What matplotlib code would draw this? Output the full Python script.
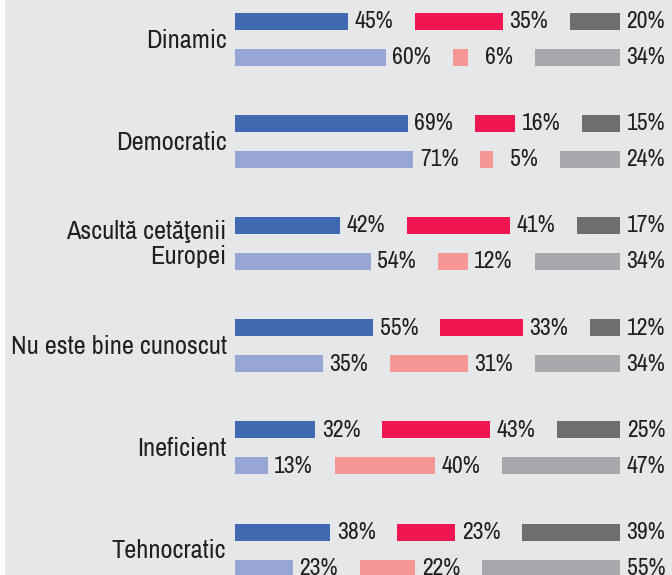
import matplotlib
matplotlib.use("Agg")
import matplotlib.pyplot as plt
from matplotlib.patches import Rectangle

# categories and the two survey rows for each (share of answers, %)
categories = ["Dinamic", "Democratic", "Ascultă cetăţenii\nEuropei",
              "Nu este bine cunoscut", "Ineficient", "Tehnocratic"]
row1 = [[45, 35, 20], [69, 16, 15], [42, 41, 17],
        [55, 33, 12], [32, 43, 25], [38, 23, 39]]
row2 = [[60, 6, 34], [71, 5, 24], [54, 12, 34],
        [35, 31, 34], [13, 40, 47], [23, 22, 55]]

colors1 = ["#4169b1", "#ef1651", "#6d6e70"]
colors2 = ["#98a6d4", "#f69795", "#a7a8ab"]
bg = "#e6e7e8"
txt = "#231f20"

plt.rcParams['font.family'] = ['Archivo Narrow', 'Liberation Sans', 'DejaVu Sans']

fig = plt.figure(figsize=(6.72, 5.75), dpi=100)
fig.patch.set_facecolor(bg)
fig.patches.append(Rectangle((0, 0), 5 / 672, 1, transform=fig.transFigure,
                             facecolor="white", edgecolor="none"))
ax = fig.add_axes([0, 0, 1, 1])
ax.set_facecolor(bg)
ax.set_xlim(-235 / 2.51, (672 - 235) / 2.51)
ax.set_ylim(575, 0)
ax.axis("off")

gap = 26.7      # space between segments, in % units
lab_off = 18    # right edge of label after the segment end
pitch = 102.2
fs = 17

for i, cat in enumerate(categories):
    y_top = 21 + pitch * i
    y_bot = y_top + 36
    for vals, cols, y in [(row1[i], colors1, y_top), (row2[i], colors2, y_bot)]:
        left = 0
        for k, (v, c) in enumerate(zip(vals, cols)):
            ax.barh(y, v, left=left + k * gap, height=17, color=c)
            ax.text(left + v + k * gap + lab_off, y + 0.5, f"{v}%", ha="right",
                    va="center", fontsize=fs, color=txt)
            left += v
    ax.text(-3.4, (y_top + y_bot) / 2 + 1, cat, ha="right", va="center",
            fontsize=19, color=txt, linespacing=1.1, multialignment="right")

fig.savefig("out.png", dpi=100, facecolor=bg)
